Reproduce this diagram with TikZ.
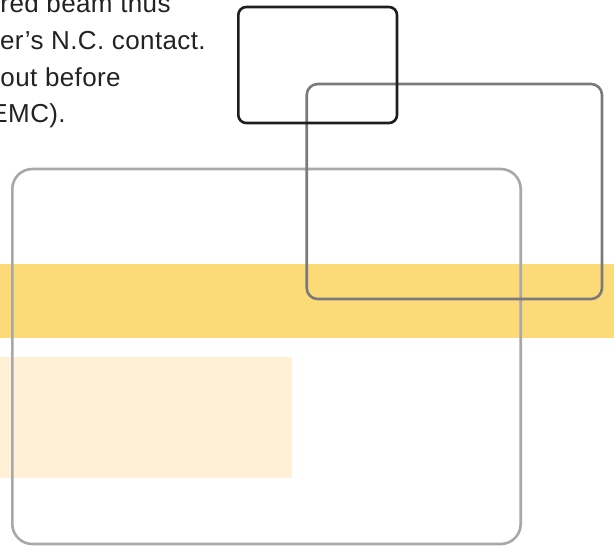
\documentclass[tikz,border=0pt]{standalone}
\usepackage{fontspec}
\setmainfont{Liberation Sans}
\newfontfamily\captxt[LetterSpace=1.5]{Liberation Sans}
\definecolor{bandyellow}{RGB}{253,218,120}
\definecolor{paleyellow}{RGB}{255,240,214}
\definecolor{lightbox}{RGB}{168,168,170}
\definecolor{midbox}{RGB}{122,122,124}
\definecolor{darkbox}{RGB}{30,30,30}
\definecolor{txtcol}{RGB}{34,34,34}
\tikzset{
  frame/.style={draw, line width=2.6pt, fill=none, inner sep=0pt, outer sep=0pt},
  txt/.style={anchor=base west, inner sep=0pt, outer sep=0pt, text=txtcol,
    font=\captxt\fontsize{26}{30}\selectfont},
}
\begin{document}
\begin{tikzpicture}[x=1pt,y=-1pt]
\useasboundingbox (0,0) rectangle (614,549);
\clip (0,0) rectangle (614,549);
% background bands
\fill[bandyellow] (0,264) rectangle (614,338);
\fill[paleyellow] (0,356.5) rectangle (292,477.5);
% frames
\node[frame, draw=lightbox, rounded corners=20pt, minimum width=508.4pt, minimum height=375pt] (big) at (266.5,356.5) {};
\node[frame, draw=midbox, rounded corners=11pt, minimum width=295.3pt, minimum height=215pt] (mid) at (454.35,191.5) {};
\node[frame, draw=darkbox, rounded corners=8pt, minimum width=158.7pt, minimum height=116pt] (blk) at (317.65,65) {};
% text
\node[txt] (l1) at (0.5,12.7) {red beam thus};
\node[txt] (l2) at (0,49.5) {er’s N.C. contact.};
\node[txt] (l3) at (0.5,86) {out before};
\node[txt] (l4) at (-9.5,122.5) {EMC).};
\end{tikzpicture}
\end{document}
